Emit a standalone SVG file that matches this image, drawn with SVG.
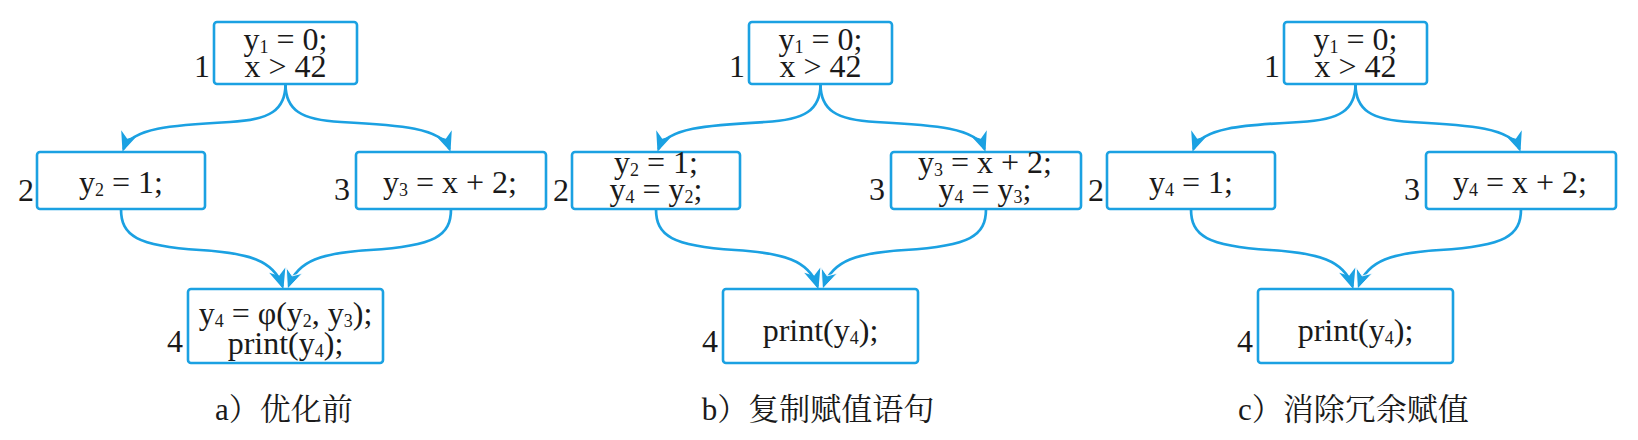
<svg xmlns="http://www.w3.org/2000/svg" width="1638" height="440" viewBox="0 0 1638 440">
<defs>
<style>
.box{fill:#fff;stroke:#1ba1e2;stroke-width:2.6}
.t{font-family:"Liberation Serif","Times New Roman",serif;font-size:32px;fill:#1a1a1a;text-anchor:middle}
.lbl{font-family:"Liberation Serif","Times New Roman",serif;font-size:32px;fill:#1a1a1a;text-anchor:end}
.sub{font-size:18px}
.cap{font-family:"Liberation Serif","Noto Serif CJK SC","Noto Sans CJK SC",serif;font-size:31px;fill:#1a1a1a;text-anchor:middle}
.edge{fill:none;stroke:#1ba1e2;stroke-width:2.7}
.e1{marker-end:url(#ah)}
.e2{marker-end:url(#ahw)}
</style>
<marker id="ah" viewBox="-22 -11 26 22" refX="0" refY="0" markerWidth="26" markerHeight="22" markerUnits="userSpaceOnUse" orient="auto">
<path d="M3,0 L-17,-8.5 L-11,0 L-17,8.5 Z" fill="#1ba1e2"/>
</marker>
<marker id="ahw" viewBox="-22 -11 26 22" refX="0" refY="0" markerWidth="26" markerHeight="22" markerUnits="userSpaceOnUse" orient="auto">
<path d="M3,0 L-17,-8.5 L-11,0 L-17,8.5 Z" fill="#1ba1e2" stroke="#fff" stroke-width="0.8"/>
</marker>
</defs>
<rect width="1638" height="440" fill="#fff"/>

<!-- Panel a -->
<g id="panel-a">
<g id="a-edges">
<path class="edge e1" d="M285.5,84 C285.5,110 270,120 230,122 C172,125 131,128 123.5,149"/>
<path class="edge e1" d="M285.5,84 C285.5,110 301,120 341,122 C400,125 442,128 449.5,149"/>
<path class="edge e1" d="M121,209 C121,236 137,246 200,250 C248,253 274,260 282.5,286.3"/>
<path class="edge e2" d="M451,209 C451,236 435,246 370,250 C322,253 298,260 288.5,286.3"/>
</g>
<g id="a-n1">
<rect class="box" x="214" y="22" width="143" height="62" rx="3"/>
<text class="t" x="285.5" y="50">y<tspan class="sub" dy="3">1</tspan><tspan dy="-3"> = 0;</tspan></text>
<text class="t" x="285.5" y="77">x &gt; 42</text>
<text class="lbl" x="210" y="77">1</text>
</g>
<g id="a-n2">
<rect class="box" x="37" y="152" width="168" height="57" rx="3"/>
<text class="t" x="121" y="193">y<tspan class="sub" dy="3">2</tspan><tspan dy="-3"> = 1;</tspan></text>
<text class="lbl" x="34" y="201">2</text>
</g>
<g id="a-n3">
<rect class="box" x="356" y="152" width="190" height="57" rx="3"/>
<text class="t" x="450" y="193">y<tspan class="sub" dy="3">3</tspan><tspan dy="-3"> = x + 2;</tspan></text>
<text class="lbl" x="350" y="200">3</text>
</g>
<g id="a-n4">
<rect class="box" x="188" y="289" width="195" height="74" rx="3"/>
<text class="t" x="285.5" y="324">y<tspan class="sub" dy="3">4</tspan><tspan dy="-3"> = φ(y</tspan><tspan class="sub" dy="3">2</tspan><tspan dy="-3">, y</tspan><tspan class="sub" dy="3">3</tspan><tspan dy="-3">);</tspan></text>
<text class="t" x="285.5" y="354">print(y<tspan class="sub" dy="3">4</tspan><tspan dy="-3">);</tspan></text>
<text class="lbl" x="183" y="352">4</text>
</g>
<text class="cap" x="284" y="420">a）优化前</text>
</g>

<!-- Panel b -->
<g id="panel-b" transform="translate(535,0)">
<g id="b-edges">
<path class="edge e1" d="M285.5,84 C285.5,110 270,120 230,122 C172,125 131,128 123.5,149"/>
<path class="edge e1" d="M285.5,84 C285.5,110 301,120 341,122 C400,125 442,128 449.5,149"/>
<path class="edge e1" d="M121,209 C121,236 137,246 200,250 C248,253 274,260 282.5,286.3"/>
<path class="edge e2" d="M451,209 C451,236 435,246 370,250 C322,253 298,260 288.5,286.3"/>
</g>
<g id="b-n1">
<rect class="box" x="214" y="22" width="143" height="62" rx="3"/>
<text class="t" x="285.5" y="50">y<tspan class="sub" dy="3">1</tspan><tspan dy="-3"> = 0;</tspan></text>
<text class="t" x="285.5" y="77">x &gt; 42</text>
<text class="lbl" x="210" y="77">1</text>
</g>
<g id="b-n2">
<rect class="box" x="37" y="152" width="168" height="57" rx="3"/>
<text class="t" x="121" y="173">y<tspan class="sub" dy="3">2</tspan><tspan dy="-3"> = 1;</tspan></text>
<text class="t" x="121" y="200">y<tspan class="sub" dy="3">4</tspan><tspan dy="-3"> = y</tspan><tspan class="sub" dy="3">2</tspan><tspan dy="-3">;</tspan></text>
<text class="lbl" x="34" y="201">2</text>
</g>
<g id="b-n3">
<rect class="box" x="356" y="152" width="190" height="57" rx="3"/>
<text class="t" x="450" y="173">y<tspan class="sub" dy="3">3</tspan><tspan dy="-3"> = x + 2;</tspan></text>
<text class="t" x="450" y="200">y<tspan class="sub" dy="3">4</tspan><tspan dy="-3"> = y</tspan><tspan class="sub" dy="3">3</tspan><tspan dy="-3">;</tspan></text>
<text class="lbl" x="350" y="200">3</text>
</g>
<g id="b-n4">
<rect class="box" x="188" y="289" width="195" height="74" rx="3"/>
<text class="t" x="285.5" y="341">print(y<tspan class="sub" dy="3">4</tspan><tspan dy="-3">);</tspan></text>
<text class="lbl" x="183" y="352">4</text>
</g>
<text class="cap" x="283" y="420">b）复制赋值语句</text>
</g>

<!-- Panel c -->
<g id="panel-c" transform="translate(1070,0)">
<g id="c-edges">
<path class="edge e1" d="M285.5,84 C285.5,110 270,120 230,122 C172,125 131,128 123.5,149"/>
<path class="edge e1" d="M285.5,84 C285.5,110 301,120 341,122 C400,125 442,128 449.5,149"/>
<path class="edge e1" d="M121,209 C121,236 137,246 200,250 C248,253 274,260 282.5,286.3"/>
<path class="edge e2" d="M451,209 C451,236 435,246 370,250 C322,253 298,260 288.5,286.3"/>
</g>
<g id="c-n1">
<rect class="box" x="214" y="22" width="143" height="62" rx="3"/>
<text class="t" x="285.5" y="50">y<tspan class="sub" dy="3">1</tspan><tspan dy="-3"> = 0;</tspan></text>
<text class="t" x="285.5" y="77">x &gt; 42</text>
<text class="lbl" x="210" y="77">1</text>
</g>
<g id="c-n2">
<rect class="box" x="37" y="152" width="168" height="57" rx="3"/>
<text class="t" x="121" y="193">y<tspan class="sub" dy="3">4</tspan><tspan dy="-3"> = 1;</tspan></text>
<text class="lbl" x="34" y="201">2</text>
</g>
<g id="c-n3">
<rect class="box" x="356" y="152" width="190" height="57" rx="3"/>
<text class="t" x="450" y="193">y<tspan class="sub" dy="3">4</tspan><tspan dy="-3"> = x + 2;</tspan></text>
<text class="lbl" x="350" y="200">3</text>
</g>
<g id="c-n4">
<rect class="box" x="188" y="289" width="195" height="74" rx="3"/>
<text class="t" x="285.5" y="341">print(y<tspan class="sub" dy="3">4</tspan><tspan dy="-3">);</tspan></text>
<text class="lbl" x="183" y="352">4</text>
</g>
<text class="cap" x="283.5" y="420">c）消除冗余赋值</text>
</g>
</svg>
